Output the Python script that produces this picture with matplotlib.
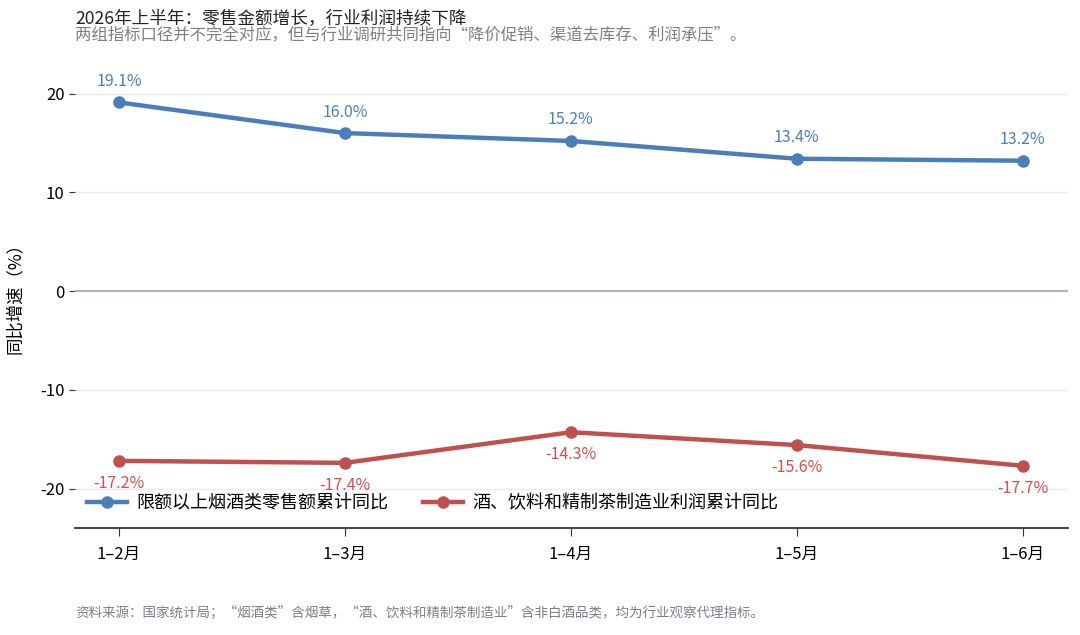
import matplotlib
matplotlib.use("Agg")
import matplotlib.pyplot as plt

plt.rcParams['font.family'] = ['Noto Sans CJK SC', 'DejaVu Sans']
plt.rcParams['axes.unicode_minus'] = False

# 数据
months = ["1–2月", "1–3月", "1–4月", "1–5月", "1–6月"]
retail_yoy = [19.1, 16.0, 15.2, 13.4, 13.2]
profit_yoy = [-17.2, -17.4, -14.3, -15.6, -17.7]

retail_label = "限额以上烟酒类零售额累计同比"
profit_label = "酒、饮料和精制茶制造业利润累计同比"

blue = "#4a7ebb"
red = "#c0504d"

fig = plt.figure(figsize=(10.8, 6.35), dpi=100)
ax = fig.add_axes([75 / 1080, 1 - 528 / 635, (1068 - 75) / 1080, (528 - 60) / 635])

x = list(range(len(months)))
ax.plot(x, retail_yoy, color=blue, lw=3.2, marker='o', ms=8, label=retail_label, zorder=3)
ax.plot(x, profit_yoy, color=red, lw=3.2, marker='o', ms=8, label=profit_label, zorder=3)

for xi, v in zip(x, retail_yoy):
    ax.annotate(f"{v:.1f}%", (xi, v), xytext=(0, 9), textcoords='offset points',
                ha='center', va='bottom', fontsize=11.5, color=blue)
for xi, v in zip(x, profit_yoy):
    ax.annotate(f"{v:.1f}%", (xi, v), xytext=(0, -10), textcoords='offset points',
                ha='center', va='top', fontsize=11.5, color="#d0504d")

ax.axhline(0, color="#a0a8b4", lw=1.2, zorder=1)
ax.set_xlim(-0.195, 4.2)
ax.set_ylim(-24, 23.4)
ax.set_yticks([-20, -10, 0, 10, 20])
ax.yaxis.grid(True, color="#ececec", lw=1)
ax.set_axisbelow(True)
ax.set_xticks(x)
ax.set_xticklabels(months)

for s in ['top', 'right', 'left']:
    ax.spines[s].set_visible(False)
ax.spines['bottom'].set_color("#333333")
ax.spines['bottom'].set_linewidth(1.3)
ax.tick_params(axis='x', length=6, color="#333333", labelsize=12, pad=7)
ax.tick_params(axis='y', length=4, color="#333333", labelsize=12)

ax.set_ylabel("同比增速（%）", fontsize=12.5, labelpad=12)

ax.legend(loc='lower left', ncol=2, frameon=False, fontsize=13,
          bbox_to_anchor=(0.001, 0.01), handlelength=2.2, handletextpad=0.55,
          columnspacing=1.9, borderaxespad=0.2)

fig.text(75 / 1080, 1 - 19 / 635, "2026年上半年：零售金额增长，行业利润持续下降",
         fontsize=12.7, color="#222222", va='center')
fig.text(75 / 1080, 1 - 35 / 635, "两组指标口径并不完全对应，但与行业调研共同指向“降价促销、渠道去库存、利润承压”。",
         fontsize=11.8, color="#7a7f8a", va='center')
fig.text(75 / 1080, 1 - 613 / 635, "资料来源：国家统计局；“烟酒类”含烟草，“酒、饮料和精制茶制造业”含非白酒品类，均为行业观察代理指标。",
         fontsize=9.75, color="#7a7f8a", va='center')

fig.savefig("out.png", dpi=100)
